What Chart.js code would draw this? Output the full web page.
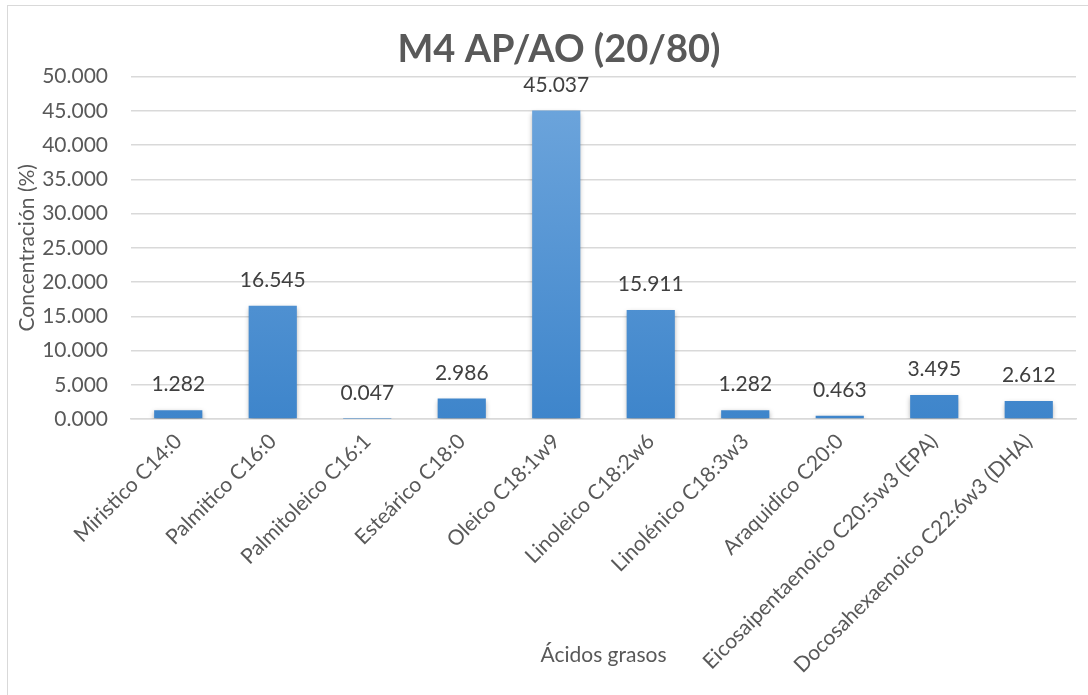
<!DOCTYPE html>
<html>
<head>
<meta charset="utf-8">
<script src="https://cdn.jsdelivr.net/npm/chart.js@4"></script>
<style>
  body { margin: 0; background: #fff; }
  #wrap { width: 1088px; height: 695px; }
</style>
</head>
<body>
<div id="wrap"><canvas id="myChart" width="1088" height="695"></canvas></div>
<script>
const ctx = document.getElementById("myChart");

const acidos = [
  "Miristico C14:0",
  "Palmitico C16:0",
  "Palmitoleico C16:1",
  "Esteárico C18:0",
  "Oleico C18:1w9",
  "Linoleico C18:2w6",
  "Linolénico C18:3w3",
  "Araquidico C20:0",
  "Eicosaipentaenoico C20:5w3 (EPA)",
  "Docosahexaenoico C22:6w3 (DHA)",
];
const concentracion = [1.282, 16.545, 0.047, 2.986, 45.037, 15.911, 1.282, 0.463, 3.495, 2.612];
const yTicks = [0, 5, 10, 15, 20, 25, 30, 35, 40, 45, 50];

const FONT = "Lato, 'Open Sans', sans-serif";
const GREY = "#595959";

// white page + light frame like the office chart
const frame = {
  id: "frame",
  beforeDraw(chart) {
    const c = chart.ctx;
    c.save();
    c.fillStyle = "#fff";
    c.fillRect(0, 0, chart.width, chart.height);
    c.strokeStyle = "#d9d9d9";
    c.lineWidth = 1;
    c.strokeRect(7.5, 5.5, chart.width, chart.height);
    c.restore();
  },
  afterLayout(chart) {
    // title sits a bit right of the canvas centre in the original
    if (chart.titleBlock) chart.titleBlock.left += 42;
  },
};

// soft shadow under the bars
const barShadow = {
  id: "barShadow",
  beforeDatasetsDraw(chart) {
    const c = chart.ctx;
    c.save();
    c.shadowColor = "rgba(0,0,0,0.35)";
    c.shadowBlur = 5;
    c.shadowOffsetY = 2;
  },
  afterDatasetsDraw(chart) {
    chart.ctx.restore();
  },
};

// value labels above each bar
const valueLabels = {
  id: "valueLabels",
  afterDatasetsDraw(chart) {
    const c = chart.ctx;
    const meta = chart.getDatasetMeta(0);
    c.save();
    c.font = "21px " + FONT;
    c.fillStyle = "#404040";
    c.textAlign = "center";
    c.textBaseline = "alphabetic";
    meta.data.forEach((bar, i) => {
      c.fillText(concentracion[i].toFixed(3), bar.x, bar.y - 19);
    });
    c.restore();
  },
};

new Chart(ctx, {
  type: "bar",
  data: {
    labels: acidos,
    datasets: [
      {
        label: "Concentración (%)",
        data: concentracion,
        backgroundColor: (context) => {
          const area = context.chart.chartArea;
          if (!area) return "#5b9bd5";
          const el = context.element;
          const top = el && el.y != null ? el.y : area.top;
          const g = context.chart.ctx.createLinearGradient(0, top, 0, area.bottom);
          g.addColorStop(0, "#70a7dd");
          g.addColorStop(1, "#3e85cb");
          return g;
        },
        borderWidth: 0,
        categoryPercentage: 1,
        barPercentage: 0.51,
      },
    ],
  },
  options: {
    responsive: false,
    animation: false,
    layout: { padding: { top: 0, right: 12, left: 0, bottom: 0 } },
    plugins: {
      legend: { display: false },
      tooltip: { enabled: false },
      title: {
        display: true,
        text: "M4 AP/AO (20/80)",
        color: GREY,
        font: { family: FONT, size: 38, weight: "bold" },
        padding: { top: 27, bottom: 4 },
      },
    },
    scales: {
      x: {
        afterFit: (axis) => {
          axis.height = 276;
        },
        grid: { display: false, drawTicks: false },
        border: { color: "#d9d9d9", width: 1.5 },
        ticks: {
          color: GREY,
          font: { family: FONT, size: 21 },
          minRotation: 45,
          maxRotation: 45,
          autoSkip: false,
          padding: 10,
        },
        title: {
          display: true,
          text: "Ácidos grasos",
          color: GREY,
          font: { family: FONT, size: 21 },
          padding: { top: 0, bottom: 27 },
        },
      },
      y: {
        min: 0,
        max: 50,
        afterFit: (axis) => {
          axis.width = 131;
        },
        afterBuildTicks: (axis) => {
          axis.ticks = yTicks.map((v) => ({ value: v }));
        },
        grid: { color: "#d9d9d9", lineWidth: 1.5, drawTicks: false },
        border: { display: false },
        ticks: {
          color: GREY,
          font: { family: FONT, size: 21 },
          padding: 23,
          callback: (v) => Number(v).toFixed(3),
        },
        title: {
          display: true,
          text: "Concentración (%)",
          color: GREY,
          font: { family: FONT, size: 21 },
          padding: { top: 15, bottom: 0 },
        },
      },
    },
  },
  plugins: [frame, barShadow, valueLabels],
});
</script>
</body>
</html>
